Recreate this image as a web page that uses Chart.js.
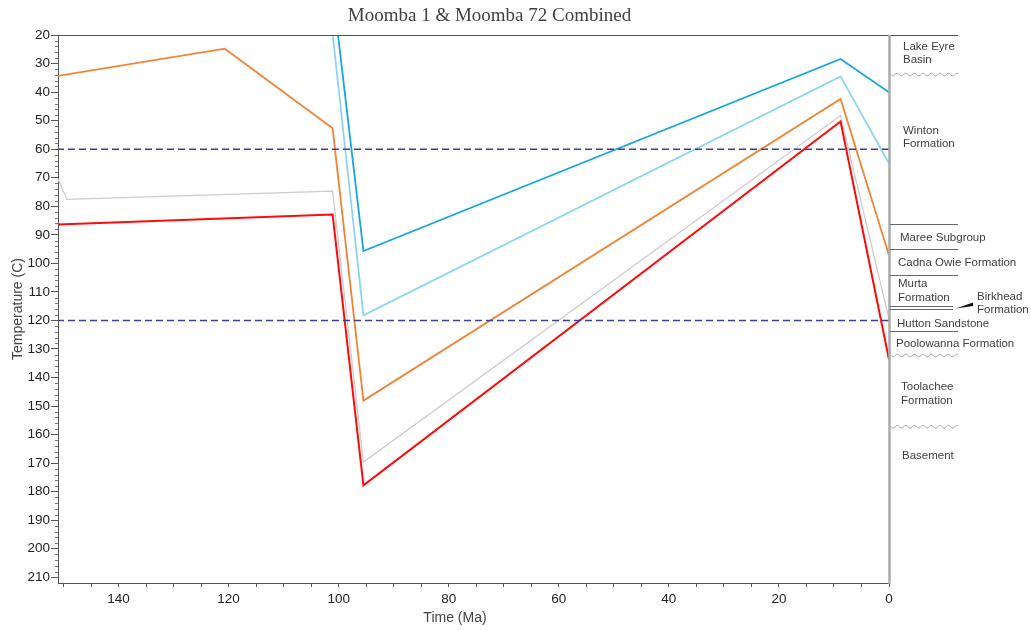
<!DOCTYPE html>
<html><head><meta charset="utf-8">
<script src="https://cdn.jsdelivr.net/npm/chart.js@4.4.0/dist/chart.umd.min.js"></script>
<style>html,body{margin:0;padding:0;background:#fff;}canvas{display:block;}</style>
</head><body>
<canvas id="c" width="1031" height="630"></canvas>
<script>
// ---- Data ----
const chartTitle = 'Moomba 1 & Moomba 72 Combined';
const xTitle = 'Time (Ma)';
const yTitle = 'Temperature (C)';

const redTime = [151, 101.1, 95.5, 8.8, 0];
const redTemp = [86.4, 82.9, 177.8, 50.3, 133.7];

const grayTime = [151, 149.4, 101.1, 95.5, 8.8, 0];
const grayTemp = [70.4, 77.6, 74.7, 169.6, 48.2, 119.5];

const orangeTime = [151, 120.7, 101.1, 95.5, 8.8, 0];
const orangeTemp = [34.3, 24.8, 52.7, 148.1, 42.4, 97.2];

const lightBlueTime = [101.1, 95.5, 8.8, 0];
const lightBlueTemp = [19.5, 118.2, 34.5, 65.0];

const blueTime = [101.1, 95.5, 8.8, 0];
const blueTemp = [4.0, 95.7, 28.4, 40.1];

const windowTemps = [60, 120];
const windowTime = [0, 151];

const stratNames = [
  ['Lake Eyre', 'Basin'], ['Winton', 'Formation'], ['Maree Subgroup'],
  ['Cadna Owie Formation'], ['Murta', 'Formation'], ['Birkhead', 'Formation'],
  ['Hutton Sandstone'], ['Poolowanna Formation'], ['Toolachee', 'Formation'], ['Basement']
];

// ---- Helpers ----
const pts = (t, v) => t.map((x, i) => ({x: x, y: v[i]}));
const SANS = '"Liberation Sans", Arial, sans-serif';

// layout of the stratigraphic column (offsets from chart area right/top, px)
const stratText = [
  {dx: 14, dy: [12, 24.5]}, {dx: 14, dy: [96.3, 109]}, {dx: 11, dy: [203.3]},
  {dx: 9, dy: [227.7]}, {dx: 9, dy: [249.3, 263.3]}, {dx: 88, dy: [261.7, 275]},
  {dx: 8, dy: [289.3]}, {dx: 7, dy: [309.3]}, {dx: 12, dy: [352.3, 366]}, {dx: 13, dy: [421]}
];
const stratLines = [{dy: 189, w: 69}, {dy: 214.3, w: 69}, {dy: 240, w: 69}, {dy: 271, w: 64}, {dy: 274.3, w: 64}, {dy: 296, w: 69}];
const stratWaves = [39.5, 320.5, 391.7];

const decorPlugin = {
  id: 'decor',
  afterDatasetsDraw(chart) {
    const {ctx, chartArea: a, scales} = chart;
    const R = a.right, T = a.top;
    ctx.save();
    // top border
    ctx.strokeStyle = '#555'; ctx.lineWidth = 1;
    ctx.beginPath(); ctx.moveTo(a.left, T + 0.5); ctx.lineTo(R + 69, T + 0.5); ctx.stroke();
    // minor y ticks
    const ys = scales.y;
    ctx.strokeStyle = '#777';
    for (let v = 22; v <= 210; v += 2) {
      if (v % 10 === 0) continue;
      const py = Math.round(ys.getPixelForValue(v)) + 0.5;
      ctx.beginPath(); ctx.moveTo(a.left - 3, py); ctx.lineTo(a.left, py); ctx.stroke();
    }
    // right column bar
    ctx.strokeStyle = '#aaa'; ctx.lineWidth = 2.5;
    ctx.beginPath(); ctx.moveTo(R + 0.5, T); ctx.lineTo(R + 0.5, a.bottom + 1); ctx.stroke();
    // boundaries
    ctx.strokeStyle = '#666'; ctx.lineWidth = 1;
    stratLines.forEach(l => {
      const y = Math.round(T + l.dy) + 0.5;
      ctx.beginPath(); ctx.moveTo(R + 1, y); ctx.lineTo(R + l.w, y); ctx.stroke();
    });
    // wavy unconformities
    ctx.strokeStyle = '#999'; ctx.lineWidth = 0.9;
    stratWaves.forEach(dy => {
      const y0 = T + dy;
      ctx.beginPath();
      for (let x = R + 2; x <= R + 69; x += 0.5) {
        const y = y0 + 1.3 * Math.sin((x - R - 2) / 8.5 * 2 * Math.PI);
        if (x === R + 2) ctx.moveTo(x, y); else ctx.lineTo(x, y);
      }
      ctx.stroke();
    });
    // wedge for Birkhead
    ctx.fillStyle = '#111';
    ctx.beginPath();
    ctx.moveTo(R + 67, T + 273.5); ctx.lineTo(R + 84, T + 267.5); ctx.lineTo(R + 84, T + 271);
    ctx.closePath(); ctx.fill();
    // labels
    ctx.fillStyle = '#404040';
    ctx.font = '11.5px ' + SANS;
    ctx.textAlign = 'left'; ctx.textBaseline = 'middle';
    stratNames.forEach((lines, i) => {
      lines.forEach((txt, j) => ctx.fillText(txt, R + stratText[i].dx, T + stratText[i].dy[j]));
    });
    // chart title
    ctx.fillStyle = '#404040';
    ctx.font = '19px "Liberation Serif", "Times New Roman", serif';
    ctx.textAlign = 'center';
    ctx.fillText(chartTitle, 489.5, 16);
    // x title
    ctx.font = '14px ' + SANS;
    ctx.fillStyle = '#444';
    ctx.fillText(xTitle, 455, 618);
    ctx.restore();
  }
};

const mk = (label, t, v, color, w, dash) => ({
  label, data: pts(t, v), borderColor: color, backgroundColor: color,
  borderWidth: w, borderDash: dash || [], pointRadius: 0, tension: 0, fill: false
});

new Chart(document.getElementById('c'), {
  type: 'line',
  data: {
    datasets: [
      mk('60 C', windowTime, windowTime.map(() => windowTemps[0]), '#3d3f94', 1.5, [7, 4]),
      mk('120 C', windowTime, windowTime.map(() => windowTemps[1]), '#3d3f94', 1.5, [7, 4]),
      mk('Red', redTime, redTemp, '#ff0a0a', 2),
      mk('Orange', orangeTime, orangeTemp, '#f08537', 1.8),
      mk('Blue', blueTime, blueTemp, '#17a6e3', 1.8),
      mk('Light blue', lightBlueTime, lightBlueTemp, '#8fd4f4', 1.8),
      mk('Gray', grayTime, grayTemp, '#cccccc', 1.3)
    ]
  },
  options: {
    responsive: false, animation: false,
    layout: {padding: {left: 0, right: 142, top: 35, bottom: 0}},
    plugins: {legend: {display: false}, title: {display: false}, tooltip: {enabled: false}},
    scales: {
      x: {
        type: 'linear', reverse: true, min: 0, max: 151,
        afterFit: s => { s.height = 47; },
        grid: {display: true, drawOnChartArea: false, drawTicks: true, tickLength: 4, color: '#555'},
        border: {display: true, color: '#555', width: 1},
        ticks: {stepSize: 5, autoSkip: false, includeBounds: false, maxRotation: 0,
          color: '#222', font: {family: SANS, size: 13.5}, padding: 4,
          callback: v => (v % 20 === 0 ? String(v) : '')}
      },
      y: {
        type: 'linear', reverse: true, min: 20, max: 212,
        afterFit: s => { s.width = 58; },
        grid: {display: true, drawOnChartArea: false, drawTicks: true, tickLength: 7, color: '#555'},
        border: {display: true, color: '#555', width: 1},
        ticks: {stepSize: 10, includeBounds: false, autoSkip: false,
          color: '#222', font: {family: SANS, size: 13.5}, padding: 1},
        title: {display: true, text: yTitle, color: '#444', font: {family: SANS, size: 14},
          padding: {top: 9.6, bottom: 0}}
      }
    }
  },
  plugins: [decorPlugin]
});
</script>
</body></html>
